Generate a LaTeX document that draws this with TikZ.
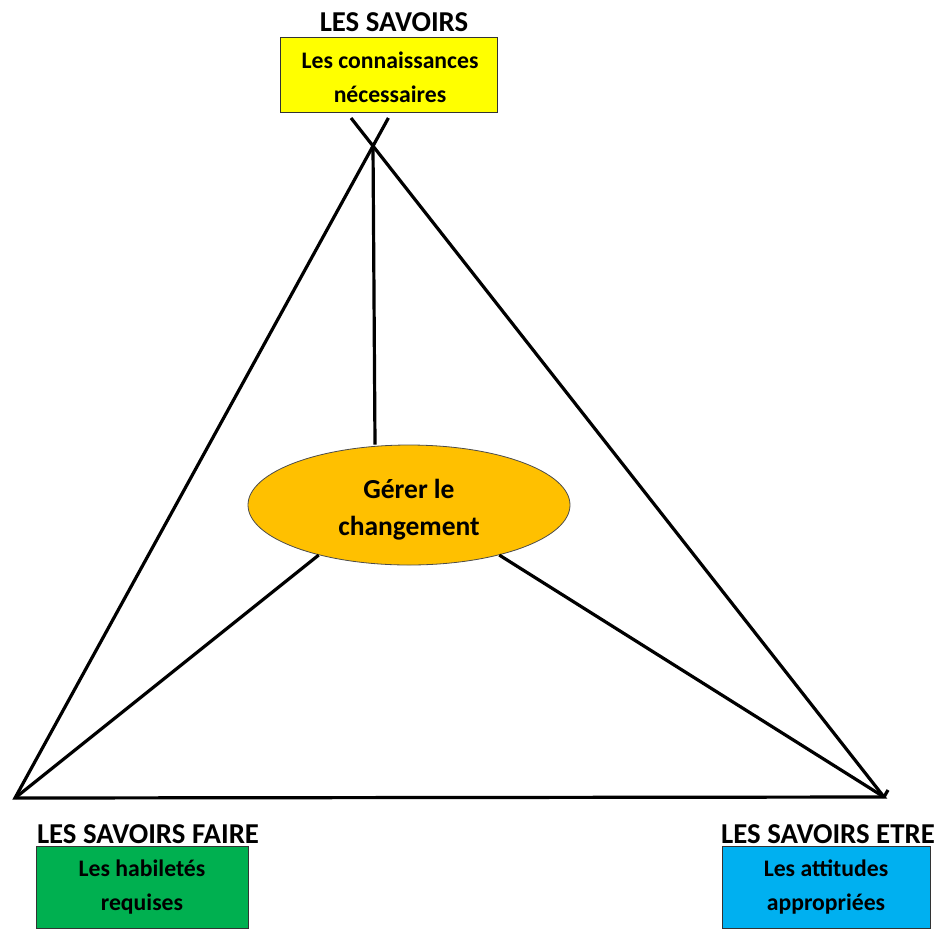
\documentclass[tikz,border=0pt]{standalone}
\usepackage{fontspec}
\setmainfont{Carlito}
\usetikzlibrary{shapes.geometric,calc}
\begin{document}
\begin{tikzpicture}[x=1pt,y=-1pt,
  conn/.style={line width=3.2pt,black},
  boxtxt/.style={font=\fontsize{23.7}{34}\selectfont\bfseries,align=center},
  lbl/.style={font=\fontsize{28.8}{30}\selectfont\bfseries,inner sep=0pt}]
\useasboundingbox (0,0) rectangle (942,930);
% boxes
\filldraw[fill={rgb,255:red,255;green,255;blue,0},draw=black!80,line width=1pt] (280,37) rectangle (497,112);
\node[boxtxt] (sav) at (390,77) {Les connaissances\\nécessaires};
\filldraw[fill={rgb,255:red,0;green,176;blue,80},draw=black!80,line width=1pt] (36,846) rectangle (248,928);
\node[boxtxt] (fai) at (142,887) {Les habiletés\\requises};
\filldraw[fill={rgb,255:red,0;green,176;blue,240},draw=black!80,line width=1pt] (722,846) rectangle (930,928);
\node[boxtxt] (etr) at (826,887) {Les attitudes\\appropriées};
% labels
\node[lbl] (l1) at (394,22) {LES SAVOIRS};
\node[lbl] (l2) at (148,834) {LES SAVOIRS FAIRE};
\node[lbl] (l3) at (828,834) {LES SAVOIRS ETRE};
% vertices
\coordinate (A) at (373,146);
\coordinate (B) at (15,798);
\coordinate (C) at (884,797);
% ellipse
\node[ellipse,draw=black!70,line width=0.8pt,fill={rgb,255:red,255;green,192;blue,0},minimum width=322pt,minimum height=120pt,inner sep=0pt] (G) at (409,505) {};
\node[font=\fontsize{27.5}{37}\selectfont\bfseries,align=center] (Gt) at (409,510) {Gérer le\\changement};
% triangle
\draw[conn] ($(B)!1.043!(A)$) -- (B) -- (C) -- ($(C)!1.043!(A)$);
\draw[conn] (C) -- (888,790);
\draw[conn] (A) -- (G.north -| 375,0);
\draw[conn] (G.-151) -- (B);
\draw[conn] (G.-29) -- (C);
\end{tikzpicture}
\end{document}
